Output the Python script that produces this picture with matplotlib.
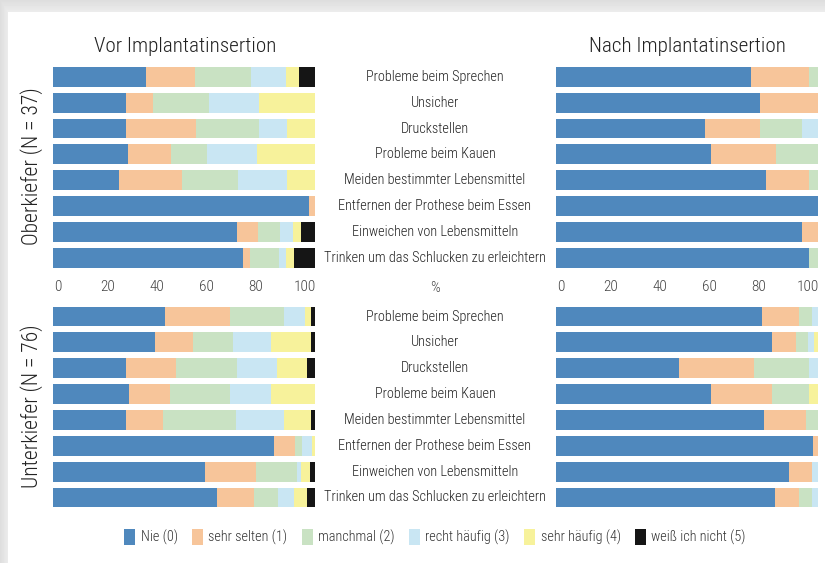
import numpy as np
import matplotlib
matplotlib.use("Agg")
import matplotlib.pyplot as plt
from matplotlib import font_manager
from matplotlib.patches import Patch

names = {f.name for f in font_manager.fontManager.ttflist}
fam = None
for cand in ["Roboto Condensed", "Liberation Sans Narrow", "Open Sans Condensed", "Liberation Sans"]:
    if cand in names:
        fam = cand
        break
plt.rcParams['font.family'] = [fam, 'DejaVu Sans']

items = ["Probleme beim Sprechen", "Unsicher", "Druckstellen", "Probleme beim Kauen",
         "Meiden bestimmter Lebensmittel", "Entfernen der Prothese beim Essen",
         "Einweichen von Lebensmitteln", "Trinken um das Schlucken zu erleichtern"]
cats = ["Nie (0)", "sehr selten (1)", "manchmal (2)", "recht häufig (3)", "sehr häufig (4)", "weiß ich nicht (5)"]
colors = ["#4f88bd", "#f7c59a", "#c9e2c3", "#c9e6f3", "#f7f29b", "#151515"]

# rows: items; columns: categories (percent)
ok_vor = [
    [35.6, 18.7, 21.3, 13.2, 5.2, 6.0],
    [27.7, 10.4, 21.6, 18.9, 21.4, 0.0],
    [28.0, 26.7, 24.0, 10.5, 10.8, 0.0],
    [28.6, 16.4, 13.7, 19.2, 22.1, 0.0],
    [25.0, 24.1, 21.5, 18.7, 10.7, 0.0],
    [97.7, 2.3, 0.0, 0.0, 0.0, 0.0],
    [70.4, 8.0, 8.3, 5.0, 2.9, 5.4],
    [72.6, 2.7, 10.9, 2.7, 2.9, 8.2],
]
ok_nach = [
    [74.6, 21.9, 3.5, 0.0, 0.0, 0.0],
    [77.9, 22.1, 0.0, 0.0, 0.0, 0.0],
    [56.8, 21.1, 15.9, 6.2, 0.0, 0.0],
    [59.3, 24.7, 16.0, 0.0, 0.0, 0.0],
    [80.3, 16.1, 3.6, 0.0, 0.0, 0.0],
    [100.0, 0.0, 0.0, 0.0, 0.0, 0.0],
    [94.0, 6.0, 0.0, 0.0, 0.0, 0.0],
    [96.7, 0.0, 3.3, 0.0, 0.0, 0.0],
]
uk_vor = [
    [42.8, 24.8, 20.6, 7.8, 2.5, 1.5],
    [39.0, 14.4, 15.2, 14.5, 15.2, 1.7],
    [27.7, 19.2, 23.3, 15.4, 11.5, 2.9],
    [29.0, 15.5, 23.1, 15.6, 16.8, 0.0],
    [27.7, 14.1, 28.1, 18.2, 10.2, 1.7],
    [84.5, 7.8, 2.7, 3.8, 1.2, 0.0],
    [58.2, 19.3, 15.6, 1.4, 3.6, 1.9],
    [62.6, 14.2, 8.9, 6.4, 5.0, 2.9],
]
uk_nach = [
    [78.8, 13.9, 5.1, 2.2, 0.0, 0.0],
    [82.5, 9.0, 4.6, 2.2, 1.7, 0.0],
    [46.9, 28.7, 20.8, 3.6, 0.0, 0.0],
    [59.0, 23.5, 13.9, 0.0, 3.6, 0.0],
    [79.5, 15.8, 4.7, 0.0, 0.0, 0.0],
    [98.1, 1.9, 0.0, 0.0, 0.0, 0.0],
    [88.9, 8.9, 0.0, 2.2, 0.0, 0.0],
    [83.7, 8.9, 5.2, 2.2, 0.0, 0.0],
]
tick_labels = ["0", "20", "40", "60", "80", "100"]
tick_pos = [2, 20.8, 39.6, 58.4, 77.2, 96]

W, H = 825, 563
fig = plt.figure(figsize=(W / 100, H / 100), dpi=100)
fig.patch.set_facecolor("white")

# card shadow background
bg = fig.add_axes([0, 0, 1, 1], zorder=-10)
yy = np.arange(H)[:, None]
xx = np.arange(W)[None, :]
top = np.clip((12 - yy) / 12.0, 0, 1)
left = np.clip((8 - xx) / 8.0, 0, 1)
shade = np.where((yy < 12) | (xx < 8), 0.55 + 0.45 * np.maximum(top, left), 0)
img = 1 - 0.13 * shade
bg.imshow(img, cmap="gray", vmin=0, vmax=1, aspect="auto", extent=[0, W, H, 0])
bg.set_axis_off()

def px_ax(x0, x1, ytop, ybot):
    return fig.add_axes([x0 / W, 1 - ybot / H, (x1 - x0) / W, (ybot - ytop) / H])

panels = [
    (ok_vor, 53, 315, 64, 270.5),
    (ok_nach, 556, 818, 64, 270.5),
    (uk_vor, 53, 315, 303.6, 510.4),
    (uk_nach, 556, 818, 303.6, 510.4),
]
txt_kw = dict(fontweight="light")
axes = []
for data, x0, x1, yt, yb in panels:
    ax = px_ax(x0, x1, yt, yb)
    arr = np.array(data)
    y = np.arange(len(items))
    left_acc = np.zeros(len(items))
    for j in range(len(cats)):
        ax.barh(y, arr[:, j], left=left_acc, height=0.77, color=colors[j], edgecolor="none")
        left_acc += arr[:, j]
    ax.set_xlim(0, 100)
    ax.set_ylim(len(items) - 0.5, -0.5)
    ax.set_yticks([])
    for s in ax.spines.values():
        s.set_visible(False)
    ax.set_xticks([])
    axes.append(ax)

# tick labels only below top panels
for ax in axes[:2]:
    ax.set_xticks(tick_pos)
    ax.set_xticklabels(tick_labels, fontsize=11, color="#444444", fontweight="light")
    ax.tick_params(axis="x", length=0, pad=7)

# centre labels
for ax in (axes[0], axes[2]):
    for i, t in enumerate(items):
        ax.text(1.458, i, t, transform=ax.get_yaxis_transform(), ha="center", va="center",
                fontsize=10.3, color="#222222", **txt_kw)
fig.text(435 / W, 1 - 288 / H, "%", ha="center", va="center", fontsize=11, color="#444444", **txt_kw)

fig.text(185 / W, 1 - 47 / H, "Vor Implantatinsertion", ha="center", va="center", fontsize=15.2, color="#222222", **txt_kw)
fig.text(687 / W, 1 - 47 / H, "Nach Implantatinsertion", ha="center", va="center", fontsize=15.2, color="#222222", **txt_kw)
fig.text(32 / W, 1 - 166 / H, "Oberkiefer (N = 37)", rotation=90, ha="center", va="center", fontsize=15.5, color="#222222", **txt_kw)
fig.text(32 / W, 1 - 406 / H, "Unterkiefer (N = 76)", rotation=90, ha="center", va="center", fontsize=15.5, color="#222222", **txt_kw)

handles = [Patch(facecolor=c, edgecolor="none", label=l) for c, l in zip(colors, cats)]
fig.legend(handles=handles, loc="center", bbox_to_anchor=(435 / W, 1 - 537 / H), ncol=6,
           frameon=False, prop={"size": 10.3, "weight": "light"}, handlelength=0.75, handleheight=1.3,
           handletextpad=0.4, columnspacing=1.0, labelcolor="#333333")

fig.savefig("out.png", dpi=100)
